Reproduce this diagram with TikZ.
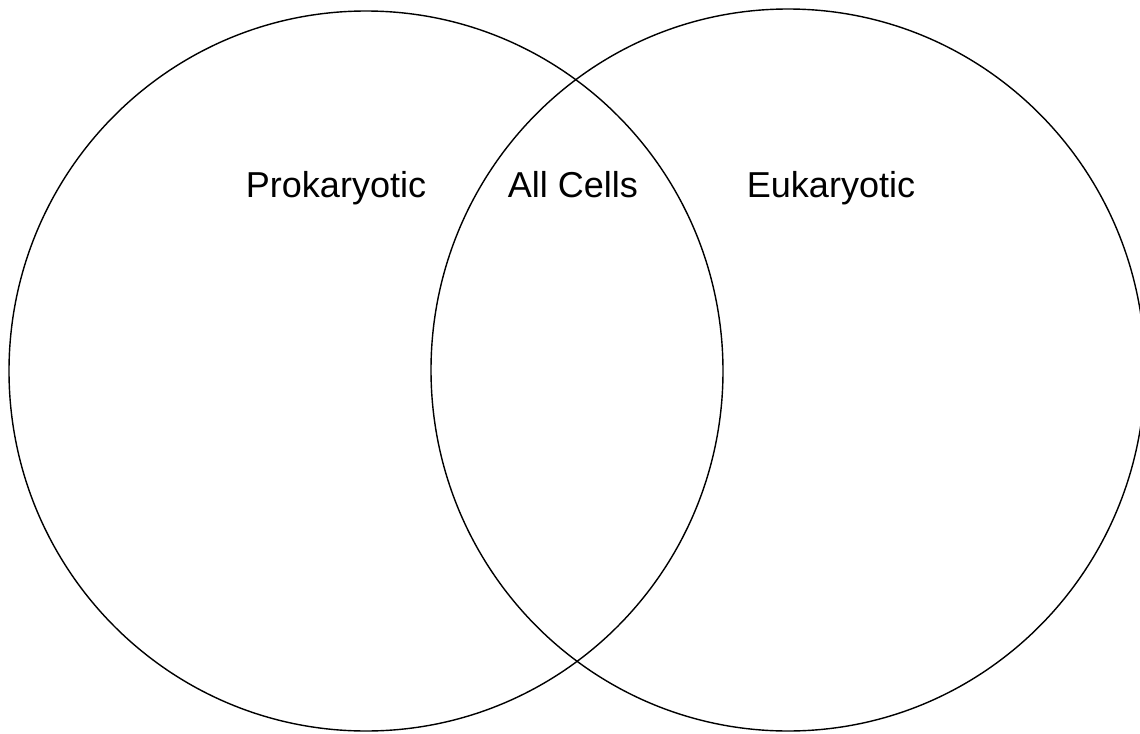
\documentclass[tikz,border=0pt]{standalone}
\usepackage{fontspec}
\setmainfont{Liberation Sans}
\tikzset{
	ring/.style={draw=black, line width=0.8pt},
	label/.style={anchor=base, font=\fontsize{20.5}{24}\selectfont}
}
\begin{document}
\begin{tikzpicture}[x=0.02cm,y=-0.02cm]

	\useasboundingbox (0,0) rectangle (1140,734);

	% Kreise
	\draw[ring] (366,371) ellipse (357 and 360);
	\draw[ring] (788,370) ellipse (357 and 361);

	% Beschriftung
	\node[label] (prok) at (336,197) {Prokaryotic};
	\node[label] (all)  at (573,197) {All Cells};
	\node[label] (euk)  at (831,197) {Eukaryotic};

\end{tikzpicture}
\end{document}
